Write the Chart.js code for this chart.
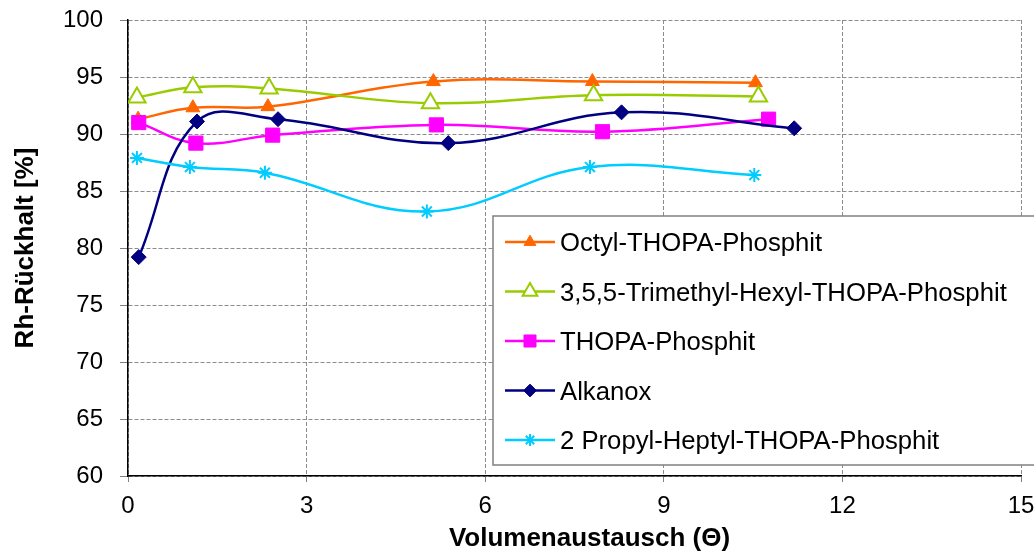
<!DOCTYPE html>
<html lang="de">
<head>
<meta charset="utf-8">
<title>Rh-Rückhalt</title>
<script src="https://cdn.jsdelivr.net/npm/chart.js@4/dist/chart.umd.min.js"></script>
<style>
    html, body { margin: 0; padding: 0; background: #fff; }
    #wrap { width: 1034px; height: 554px; }
</style>
</head>
<body>
<div id="wrap"><canvas id="chart" width="1034" height="554"></canvas></div>
<script>
/**
 * Rh-Rückhalt over Volumenaustausch for the different phosphites
 */

const seriesNames = [
    "Octyl-THOPA-Phosphit",
    "3,5,5-Trimethyl-Hexyl-THOPA-Phosphit",
    "THOPA-Phosphit",
    "Alkanox",
    "2 Propyl-Heptyl-THOPA-Phosphit",
]

const octylX = [0.17, 1.09, 2.35, 5.13, 7.80, 10.54]
const octylY = [91.3, 92.3, 92.4, 94.6, 94.6, 94.5]
const trimethylX = [0.15, 1.09, 2.37, 5.08, 7.82, 10.59]
const trimethylY = [93.2, 94.1, 94.0, 92.7, 93.4, 93.3]
const thopaX = [0.18, 1.14, 2.43, 5.18, 7.97, 10.76]
const thopaY = [91.0, 89.2, 89.9, 90.8, 90.2, 91.3]
const alkanoxX = [0.18, 1.16, 2.52, 5.38, 8.29, 11.19]
const alkanoxY = [79.2, 91.1, 91.3, 89.2, 91.9, 90.5]
const propylX = [0.15, 1.04, 2.30, 5.02, 7.76, 10.52]
const propylY = [87.9, 87.1, 86.6, 83.2, 87.1, 86.4]

const xTicks = [0, 3, 6, 9, 12, 15]
const yTicks = [60, 65, 70, 75, 80, 85, 90, 95, 100]

const xTitle = "Volumenaustausch (Θ)"
const yTitle = "Rh-Rückhalt [%]"

const FONT = "'Liberation Sans', Arial, sans-serif"

// marker look per series: style, radius, fill, border width
const styles = [
    {color: "#FF6600", pointStyle: "triangle", radius: 8, fill: "#FF6600", border: 1},
    {color: "#99CC00", pointStyle: "triangle", radius: 10, fill: "#FFFFFF", border: 2},
    {color: "#FF00FF", pointStyle: "rect", radius: 10, fill: "#FF00FF", border: 1},
    {color: "#000080", pointStyle: "rectRot", radius: 7.5, fill: "#000080", border: 1},
    {color: "#00CCFF", pointStyle: "star", radius: 7, fill: "#00CCFF", border: 2},
]

/**
 * Pair x and y arrays into {x, y} points
 */
function toPoints(xs, ys) {
    return xs.map((x, i) => ({x: x, y: ys[i]}))
}

const pointSets = [
    toPoints(octylX, octylY),
    toPoints(trimethylX, trimethylY),
    toPoints(thopaX, thopaY),
    toPoints(alkanoxX, alkanoxY),
    toPoints(propylX, propylY),
]

const datasets = pointSets.map((points, i) => ({
    label: seriesNames[i],
    data: points,
    borderColor: styles[i].color,
    borderWidth: 2.5,
    tension: 0.4,
    fill: false,
    pointStyle: styles[i].pointStyle,
    pointRadius: styles[i].radius,
    pointBackgroundColor: styles[i].fill,
    pointBorderColor: styles[i].color,
    pointBorderWidth: styles[i].border,
    // later series are painted on top
    order: seriesNames.length - i,
}))

/**
 * Legend drawn as a framed box inside the plot area
 */
const boxLegend = {
    id: "boxLegend",
    afterDraw(chart) {
        const {ctx, chartArea} = chart
        const left = chartArea.left + 365
        const top = chartArea.top + 196
        const width = 560
        const height = 249
        ctx.save()
        ctx.fillStyle = "#FFFFFF"
        ctx.fillRect(left, top, width, height)
        ctx.strokeStyle = "#808080"
        ctx.lineWidth = 1.5
        ctx.strokeRect(left, top, width, height)
        ctx.font = `25.7px ${FONT}`
        ctx.textBaseline = "alphabetic"
        chart.data.datasets.forEach((ds, i) => {
            const y = top + 26 + i * 49.5
            ctx.strokeStyle = ds.borderColor
            ctx.lineWidth = 2.5
            ctx.beginPath()
            ctx.moveTo(left + 12, y)
            ctx.lineTo(left + 62, y)
            ctx.stroke()
            ctx.fillStyle = ds.pointBackgroundColor
            ctx.strokeStyle = ds.pointBorderColor
            ctx.lineWidth = ds.pointBorderWidth
            Chart.helpers.drawPoint(ctx, {
                pointStyle: ds.pointStyle,
                radius: ds.pointRadius * 0.85,
                rotation: 0,
                borderWidth: ds.pointBorderWidth,
            }, left + 37, y)
            ctx.fillStyle = "#000000"
            ctx.fillText(ds.label, left + 67, y + 9)
        })
        ctx.restore()
    }
}

/**
 * x axis title, set a little right of the plot centre
 */
const xAxisTitle = {
    id: "xAxisTitle",
    afterDraw(chart) {
        const {ctx, chartArea} = chart
        ctx.save()
        ctx.font = `bold 26px ${FONT}`
        ctx.fillStyle = "#000000"
        ctx.textAlign = "center"
        ctx.textBaseline = "alphabetic"
        ctx.fillText(xTitle, (chartArea.left + chartArea.right) / 2 + 15, chartArea.bottom + 70)
        ctx.restore()
    }
}

const tickFont = {family: FONT, size: 24}
const titleFont = {family: FONT, size: 26, weight: "bold"}

new Chart(document.getElementById("chart"), {
    type: "line",
    data: {datasets: datasets},
    options: {
        responsive: false,
        animation: false,
        devicePixelRatio: 1,
        layout: {padding: {top: 20, right: 13, left: 0, bottom: 0}},
        plugins: {
            legend: {display: false},
            tooltip: {enabled: false},
        },
        scales: {
            x: {
                type: "linear",
                min: 0,
                max: 15,
                afterBuildTicks: (scale) => {
                    scale.ticks = xTicks.map((v) => ({value: v}))
                },
                afterFit: (scale) => {
                    scale.height = 78
                    scale.paddingLeft = 0
                    scale.paddingRight = 0
                },
                ticks: {font: tickFont, color: "#000", padding: 10, maxRotation: 0},
                grid: {color: "#8c8c8c", tickColor: "#808080", tickLength: 6},
                border: {color: "#000", width: 1.5, dash: [4, 2]},
            },
            y: {
                type: "linear",
                min: 60,
                max: 100,
                afterBuildTicks: (scale) => {
                    scale.ticks = yTicks.map((v) => ({value: v}))
                },
                afterFit: (scale) => {
                    scale.width = 128
                    scale.paddingTop = 0
                    scale.paddingBottom = 0
                },
                ticks: {font: tickFont, color: "#000", padding: 17},
                grid: {color: "#8c8c8c", tickColor: "#808080", tickLength: 8},
                border: {color: "#000", width: 1.5, dash: [4, 2]},
                title: {
                    display: true,
                    text: yTitle,
                    font: titleFont,
                    color: "#000",
                    padding: {top: 10, bottom: 0},
                },
            },
        },
    },
    plugins: [boxLegend, xAxisTitle],
})
</script>
</body>
</html>
